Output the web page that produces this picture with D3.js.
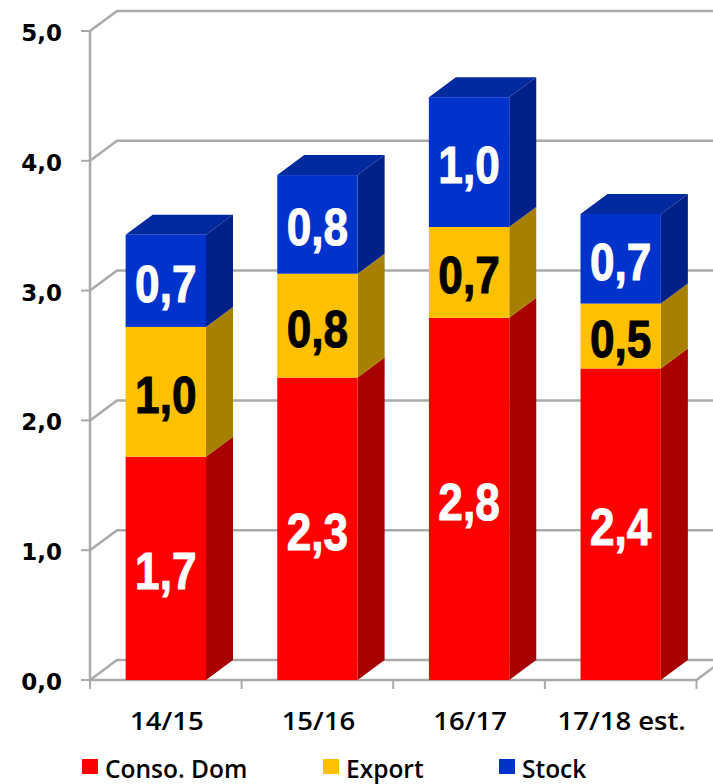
<!DOCTYPE html>
<html>
<head>
<meta charset="utf-8">
<script src="https://cdn.jsdelivr.net/npm/d3@7"></script>
<style>
  html, body { margin: 0; padding: 0; background: #fff; }
  svg { display: block; }
  .tick-label { font-family: "DejaVu Sans", sans-serif; font-weight: 700; font-size: 23px; fill: #000; }
  .cat-label { font-family: "Open Sans", sans-serif; font-weight: 600; font-size: 25px; fill: #000; }
  .legend-label { font-family: "Open Sans", sans-serif; font-weight: 600; font-size: 24.5px; fill: #000; }
  .value-label { font-family: "Liberation Sans", sans-serif; font-weight: 700; font-size: 52px; }
</style>
</head>
<body>
<div id="chart"></div>
<script>
var categories = ["14/15", "15/16", "16/17", "17/18 est."]
var conso = [1.72, 2.33, 2.79, 2.4]
var exportVals = [1.0, 0.8, 0.7, 0.5]
var stock = [0.71, 0.76, 1.0, 0.69]
var yTicks = [0, 1, 2, 3, 4, 5]
var seriesNames = ["Conso. Dom", "Export", "Stock"]

var width = 713, height = 784
var depthX = 27, depthY = 20

var svg = d3.select("#chart").append("svg")
  .attr("width", width)
  .attr("height", height)

var xScale = d3.scaleBand().domain(categories).range([90, 696.5]).paddingInner(0.47).paddingOuter(0.235)
var yScale = d3.scaleLinear().domain([0, 5]).range([680, 31])
var fmt = function (v) { return d3.format(".1f")(v).replace(".", ",") }

var rows = categories.map(function (c, i) {
  return { cat: c, "Conso. Dom": conso[i], "Export": exportVals[i], "Stock": stock[i] }
})
var stacked = d3.stack().keys(seriesNames)(rows)

var colors = d3.scaleOrdinal().domain(seriesNames).range(["#ff0000", "#ffc000", "#0033cc"])
var sideColors = d3.scaleOrdinal().domain(seriesNames).range(["#a80000", "#a88000", "#002288"])
var topColor = "#002a9e"
var textColors = d3.scaleOrdinal().domain(seriesNames).range(["#fff", "#000", "#fff"])

// walls
var grid = svg.append("g").attr("fill", "none").attr("stroke", "#aaaaaa").attr("stroke-width", 2.5)
grid.selectAll("path.wall")
  .data(yTicks)
  .enter()
  .append("path")
  .attr("class", "wall")
  .attr("d", function (d) {
    var y = yScale(d)
    return "M90," + y + "L" + (90 + depthX) + "," + (y - depthY) + "L" + width + "," + (y - depthY)
  })

grid.append("line")
  .attr("x1", 90).attr("x2", 90)
  .attr("y1", yScale(5)).attr("y2", yScale(0))

// floor front edge + right diagonal
grid.append("path")
  .attr("d", "M90," + yScale(0) + "L696.5," + yScale(0) + "L" + (696.5 + depthX) + "," + (yScale(0) - depthY))

// axis ticks
var tickG = svg.append("g").attr("stroke", "#aaaaaa").attr("stroke-width", 2)
tickG.selectAll("line.ytick")
  .data(yTicks)
  .enter()
  .append("line")
  .attr("class", "ytick")
  .attr("x1", 81).attr("x2", 90)
  .attr("y1", function (d) { return yScale(d) })
  .attr("y2", function (d) { return yScale(d) })

var step = xScale.step()
tickG.selectAll("line.xtick")
  .data(d3.range(categories.length + 1))
  .enter()
  .append("line")
  .attr("class", "xtick")
  .attr("x1", function (d) { return 90 + d * step })
  .attr("x2", function (d) { return 90 + d * step })
  .attr("y1", yScale(0))
  .attr("y2", yScale(0) + 9)

// bars, bottom series first
stacked.forEach(function (s) {
  var g = svg.append("g")
  var isTop = s.key == "Stock"

  g.selectAll("path.side")
    .data(s)
    .enter()
    .append("path")
    .attr("class", "side")
    .attr("fill", sideColors(s.key))
    .attr("d", function (d) {
      var x = xScale(d.data.cat) + xScale.bandwidth()
      return "M" + x + "," + yScale(d[0]) + "L" + (x + depthX) + "," + (yScale(d[0]) - depthY) +
        "L" + (x + depthX) + "," + (yScale(d[1]) - depthY) + "L" + x + "," + yScale(d[1]) + "Z"
    })

  if (isTop) {
    g.selectAll("path.top")
      .data(s)
      .enter()
      .append("path")
      .attr("class", "top")
      .attr("fill", topColor)
      .attr("d", function (d) {
        var x = xScale(d.data.cat), w = xScale.bandwidth(), y = yScale(d[1])
        return "M" + x + "," + y + "L" + (x + depthX) + "," + (y - depthY) +
          "L" + (x + w + depthX) + "," + (y - depthY) + "L" + (x + w) + "," + y + "Z"
      })
  }

  g.selectAll("rect")
    .data(s)
    .enter()
    .append("rect")
    .attr("x", function (d) { return xScale(d.data.cat) })
    .attr("y", function (d) { return yScale(d[1]) })
    .attr("width", xScale.bandwidth())
    .attr("height", function (d) { return yScale(d[0]) - yScale(d[1]) })
    .attr("fill", colors(s.key))

  // narrow bold look: squeeze the labels horizontally
  g.selectAll("text")
    .data(s)
    .enter()
    .append("text")
    .attr("class", "value-label")
    .attr("transform", function (d) {
      var cx = xScale(d.data.cat) + xScale.bandwidth() / 2
      var cy = (yScale(d[0]) + yScale(d[1])) / 2 + 21
      return "translate(" + cx + "," + cy + ") scale(0.85,1)"
    })
    .attr("text-anchor", "middle")
    .attr("fill", textColors(s.key))
    .attr("stroke", textColors(s.key))
    .attr("stroke-width", 1)
    .text(function (d) { return fmt(d[1] - d[0]) })
})

// y labels
svg.selectAll("text.tick-label")
  .data(yTicks)
  .enter()
  .append("text")
  .attr("class", "tick-label")
  .attr("x", 62)
  .attr("y", function (d) { return yScale(d) + 10 })
  .attr("text-anchor", "end")
  .text(fmt)

// x labels
svg.selectAll("text.cat-label")
  .data(categories)
  .enter()
  .append("text")
  .attr("class", "cat-label")
  .attr("transform", function (d) {
    return "translate(" + (xScale(d) + xScale.bandwidth() / 2 + 1) + ",730) scale(1.1,1)"
  })
  .attr("text-anchor", "middle")
  .text(function (d) { return d })

// legend
var legendX = d3.scaleOrdinal().domain(seriesNames).range([82, 323, 499])
var legend = svg.selectAll("g.legend")
  .data(seriesNames)
  .enter()
  .append("g")
  .attr("class", "legend")
  .attr("transform", function (d) { return "translate(" + legendX(d) + ",759)" })
legend.append("rect")
  .attr("width", 16).attr("height", 15)
  .attr("fill", function (d) { return colors(d) })
legend.append("text")
  .attr("class", "legend-label")
  .attr("x", 23)
  .attr("y", 19)
  .text(function (d) { return d })
</script>
</body>
</html>
